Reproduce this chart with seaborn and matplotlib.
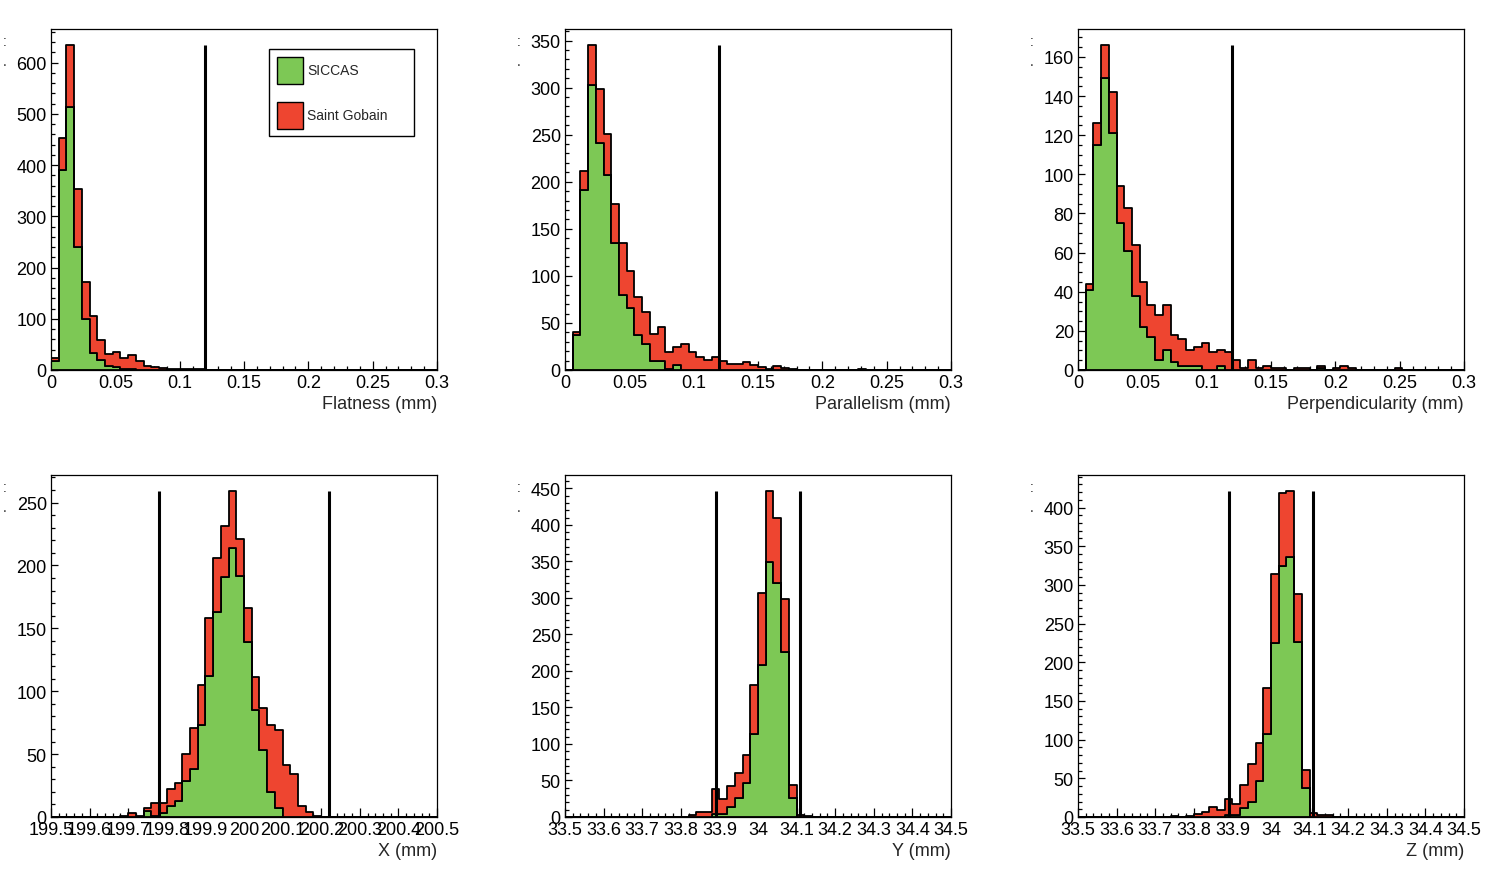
import matplotlib

matplotlib.use("Agg")

import matplotlib.pyplot as plt
import numpy as np
import pandas as pd
import seaborn as sns
from matplotlib.patches import Patch
from matplotlib.ticker import FormatStrFormatter, MultipleLocator

GREEN = "#7DC855"
RED = "#EE4530"
SAMPLES = ["Saint Gobain", "SICCAS"]  # last level ends up at the bottom of the stack

# counts per bin, 50 bins per panel
flat_siccas = [17, 390, 514, 241, 100, 34, 20, 8, 5, 2,
               2, 0, 0, 0, 0, 0, 0, 0, 0, 0,
               0, 0, 0, 0, 0, 0, 0, 0, 0, 0,
               0, 0, 0, 0, 0, 0, 0, 0, 0, 0,
               0, 0, 0, 0, 0, 0, 0, 0, 0, 0]
flat_sg = [6, 62, 120, 113, 72, 72, 39, 24, 31, 21,
           27, 17, 8, 5, 3, 2, 2, 1, 1, 2,
           0, 0, 0, 0, 0, 0, 0, 0, 0, 0,
           0, 0, 0, 0, 0, 0, 0, 0, 0, 0,
           0, 0, 0, 0, 0, 0, 0, 0, 0, 0]

par_siccas = [0, 37, 191, 303, 241, 207, 135, 80, 66, 37,
              28, 10, 10, 1, 5, 0, 0, 0, 0, 0,
              0, 0, 0, 0, 0, 0, 0, 0, 0, 0,
              0, 0, 0, 0, 0, 0, 0, 0, 0, 0,
              0, 0, 0, 0, 0, 0, 0, 0, 0, 0]
par_sg = [0, 3, 20, 42, 57, 44, 41, 55, 39, 41,
          34, 28, 36, 18, 19, 28, 19, 14, 11, 14,
          10, 6, 6, 9, 5, 3, 1, 4, 2, 1,
          0, 0, 0, 0, 0, 0, 0, 0, 1, 0,
          0, 0, 0, 0, 0, 0, 0, 0, 0, 0]

perp_siccas = [0, 41, 115, 149, 121, 75, 61, 38, 22, 17,
               5, 10, 4, 2, 2, 2, 0, 0, 2, 0,
               0, 0, 0, 0, 0, 0, 0, 0, 0, 0,
               0, 1, 0, 0, 0, 0, 0, 0, 0, 0,
               0, 0, 0, 0, 0, 0, 0, 0, 0, 0]
perp_sg = [0, 3, 11, 17, 21, 19, 22, 26, 23, 16,
           23, 23, 14, 14, 8, 10, 14, 9, 8, 9,
           5, 1, 5, 1, 2, 1, 1, 0, 1, 1,
           0, 1, 0, 1, 2, 1, 0, 0, 0, 0,
           0, 1, 0, 0, 0, 0, 0, 0, 0, 0]

x_siccas = [0, 0, 0, 0, 0, 0, 0, 0, 0, 0,
            0, 0, 5, 1, 3, 9, 13, 29, 38, 73,
            112, 163, 191, 214, 192, 139, 85, 53, 20, 7,
            0, 0, 0, 0, 0, 0, 0, 0, 0, 0,
            0, 0, 0, 0, 0, 0, 0, 0, 0, 0]
x_sg = [0, 0, 0, 0, 0, 0, 0, 0, 0, 1,
        3, 1, 2, 10, 8, 13, 14, 21, 33, 32,
        46, 43, 40, 45, 29, 27, 26, 34, 53, 62,
        41, 34, 9, 4, 1, 0, 0, 0, 0, 0,
        0, 0, 0, 0, 0, 0, 0, 0, 0, 0]

y_siccas = [0, 0, 0, 0, 0, 0, 0, 0, 0, 0,
            0, 0, 0, 0, 0, 0, 0, 0, 0, 4,
            4, 14, 26, 46, 113, 208, 349, 320, 226, 26,
            0, 0, 0, 0, 0, 0, 0, 0, 0, 0,
            0, 0, 0, 0, 0, 0, 0, 0, 0, 0]
y_sg = [0, 0, 0, 0, 0, 0, 0, 0, 0, 0,
        0, 0, 0, 0, 0, 0, 3, 7, 7, 34,
        20, 28, 34, 39, 68, 99, 97, 90, 73, 18,
        3, 1, 0, 0, 0, 0, 0, 0, 0, 0,
        0, 0, 0, 0, 0, 0, 0, 0, 0, 0]

z_siccas = [0, 0, 0, 0, 0, 0, 0, 0, 0, 0,
            0, 0, 0, 0, 0, 0, 0, 0, 0, 3,
            3, 11, 19, 47, 107, 225, 324, 336, 226, 38,
            0, 0, 0, 0, 0, 0, 0, 0, 0, 0,
            0, 0, 0, 0, 0, 0, 0, 0, 0, 0]
z_sg = [0, 0, 0, 0, 0, 0, 0, 0, 0, 0,
        0, 0, 1, 0, 1, 4, 7, 13, 9, 20,
        14, 31, 49, 49, 60, 89, 95, 85, 62, 23,
        5, 3, 3, 0, 0, 0, 0, 0, 0, 0,
        0, 0, 0, 0, 0, 0, 0, 0, 0, 0]

# tolerance limits (vertical lines)
shape_limits = [0.12]
x_limits = [199.78, 200.22]
yz_limits = [33.89, 34.11]

panels = [
    # title, range, siccas, saint gobain, limits, x major/minor, y major/minor
    ("Flatness (mm)", (0.0, 0.3), flat_siccas, flat_sg, shape_limits, (0.05, 0.01), (100, 20)),
    ("Parallelism (mm)", (0.0, 0.3), par_siccas, par_sg, shape_limits, (0.05, 0.01), (50, 10)),
    ("Perpendicularity (mm)", (0.0, 0.3), perp_siccas, perp_sg, shape_limits, (0.05, 0.01), (20, 5)),
    ("X (mm)", (199.5, 200.5), x_siccas, x_sg, x_limits, (0.1, 0.02), (50, 10)),
    ("Y (mm)", (33.5, 34.5), y_siccas, y_sg, yz_limits, (0.1, 0.02), (50, 10)),
    ("Z (mm)", (33.5, 34.5), z_siccas, z_sg, yz_limits, (0.1, 0.02), (50, 10)),
]


def draw_panel(ax, label, xrange, siccas, sg, limits, xticks, yticks):
    nbins = len(siccas)
    edges = np.linspace(xrange[0], xrange[1], nbins + 1)
    centers = (edges[:-1] + edges[1:]) / 2
    df = pd.DataFrame({
        "value": np.concatenate([centers, centers]),
        "count": np.concatenate([sg, siccas]),
        "sample": ["Saint Gobain"] * len(sg) + ["SICCAS"] * len(siccas),
    })
    sns.histplot(
        data=df, x="value", weights="count", hue="sample", hue_order=SAMPLES,
        multiple="stack", bins=nbins, binrange=xrange, element="step", fill=True, alpha=1,
        palette={"SICCAS": GREEN, "Saint Gobain": RED},
        edgecolor="black", linewidth=1.3, legend=False, ax=ax,
    )
    total = np.array(siccas) + np.array(sg)
    ax.vlines(limits, 0, total.max(), color="black", linewidth=2.2, zorder=5)

    ax.set_xlim(*xrange)
    ax.set_ylim(0, total.max() * 1.05)
    ax.xaxis.set_major_locator(MultipleLocator(xticks[0]))
    ax.xaxis.set_minor_locator(MultipleLocator(xticks[1]))
    ax.yaxis.set_major_locator(MultipleLocator(yticks[0]))
    ax.yaxis.set_minor_locator(MultipleLocator(yticks[1]))
    ax.xaxis.set_major_formatter(FormatStrFormatter("%g"))
    ax.tick_params(axis="both", which="both", direction="in", top=False, right=False,
                   colors="black", labelsize=13, pad=3)
    ax.tick_params(axis="x", which="major", length=6.5, width=0.9)
    ax.tick_params(axis="x", which="minor", length=3.2, width=0.9)
    ax.tick_params(axis="y", which="major", length=5, width=0.9)
    ax.tick_params(axis="y", which="minor", length=2.8, width=0.9)
    ax.set_xlabel(label, loc="right", fontsize=13, labelpad=3)
    ax.set_ylabel("")
    for spine in ax.spines.values():
        spine.set_color("black")
        spine.set_linewidth(0.9)


def main() -> None:
    sns.set_theme(style="ticks")
    plt.rcParams["font.family"] = ["Liberation Sans", "DejaVu Sans"]

    fig = plt.figure(figsize=(15, 8.7), dpi=100)
    lefts = [51, 565, 1078]
    rows = [(30, 371), (476, 818)]
    for i, (label, xr, sic, sg, lim, xt, yt) in enumerate(panels):
        top, bottom = rows[i // 3]
        left = lefts[i % 3]
        ax = fig.add_axes([left / 1500, 1 - bottom / 870, 386 / 1500, (bottom - top) / 870])
        draw_panel(ax, label, xr, sic, sg, lim, xt, yt)
        # clipped remains of the y-axis title, left of each pad
        fig.text((left - 46) / 1500, 1 - (top + 12) / 870, ":", fontsize=10, ha="center", va="center")
        fig.text((left - 46) / 1500, 1 - (top + 32) / 870, ".", fontsize=10, ha="center", va="center")
        if i == 0:
            handles = [
                Patch(facecolor=GREEN, edgecolor="black", label="SICCAS"),
                Patch(facecolor=RED, edgecolor="black", label="Saint Gobain"),
            ]
            leg = ax.legend(
                handles=handles, loc="upper left", bbox_to_anchor=(0.565, 0.941, 0.375, 0.0),
                mode="expand", borderaxespad=0, fontsize=10, frameon=True, fancybox=False,
                edgecolor="black", framealpha=1, handlelength=1.9, handleheight=2.6,
                handletextpad=0.3, labelspacing=1.3, borderpad=0.55,
            )
            leg.get_frame().set_linewidth(1.0)

    fig.savefig("out.png", dpi=100)
    plt.close(fig)


if __name__ == "__main__":
    main()
